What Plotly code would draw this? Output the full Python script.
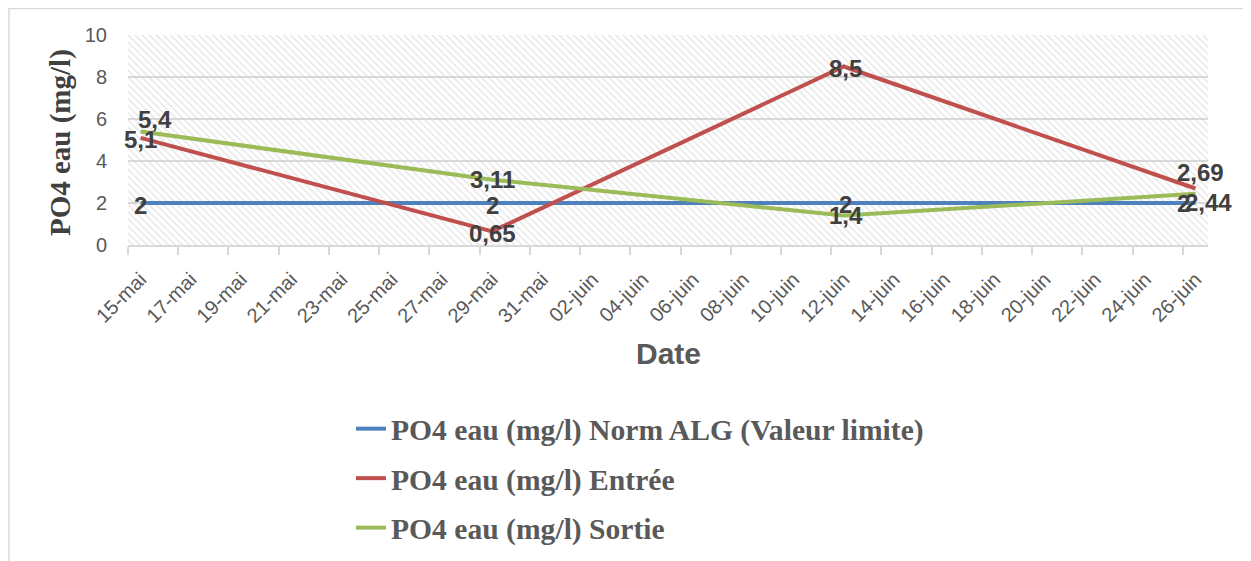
import pandas as pd
import plotly.graph_objects as go

# ---- data ----
dates = ["2023-05-15", "2023-05-29", "2023-06-12", "2023-06-26"]
norm_alg = [2, 2, 2, 2]
entree = [5.1, 0.65, 8.5, 2.69]
sortie = [5.4, 3.11, 1.4, 2.44]

series_names = [
    "PO4 eau (mg/l) Norm ALG (Valeur limite)",
    "PO4 eau (mg/l) Entrée",
    "PO4 eau (mg/l) Sortie",
]
series_colors = ["#4F81BD", "#C0504D", "#9BBB59"]

x_tick_labels = ["15-mai", "17-mai", "19-mai", "21-mai", "23-mai", "25-mai", "27-mai",
                 "29-mai", "31-mai", "02-juin", "04-juin", "06-juin", "08-juin", "10-juin",
                 "12-juin", "14-juin", "16-juin", "18-juin", "20-juin", "22-juin", "24-juin",
                 "26-juin"]
y_ticks = [0, 2, 4, 6, 8, 10]

# label offsets (pixels) for data labels: (xshift, yshift)
label_offsets = [
    [(0, -2), (0, -2), (2, -1), (-12, 0)],
    [(0, -2), (0, -2), (2, -2), (5, 16)],
    [(14, 12), (0, 0), (2, 0), (13, -9)],
]

# ---- figure ----
x_start = pd.Timestamp(dates[0]) - pd.Timedelta(hours=12)
x_end = pd.Timestamp(dates[-1]) + pd.Timedelta(hours=12)
x_mid = x_start + (x_end - x_start) / 2
span_ms = (x_end - x_start).total_seconds() * 1000
tickvals = list(pd.date_range(dates[0], periods=len(x_tick_labels), freq="2D"))

fig = go.Figure()

# hatched plot background
fig.add_trace(go.Bar(
    x=[x_mid], y=[y_ticks[-1]], base=[0], width=[span_ms],
    marker=dict(color="rgba(0,0,0,0)", line=dict(width=0),
                pattern=dict(shape="\\", fgcolor="#cfcfcf", bgcolor="rgba(0,0,0,0)",
                             size=5, solidity=0.3)),
    showlegend=False, hoverinfo="skip",
))

all_series = [norm_alg, entree, sortie]
for i, (name, vals, col) in enumerate(zip(series_names, all_series, series_colors)):
    fig.add_trace(go.Scatter(
        x=dates, y=vals, mode="lines", name=name,
        line=dict(color=col, width=4), legendgroup=str(i),
    ))

annotations = []
for vals, offs in zip(all_series, label_offsets):
    for d, v, (dx, dy) in zip(dates, vals, offs):
        annotations.append(dict(
            x=d, y=v, xref="x", yref="y", text=str(v).replace(".", ","),
            showarrow=False, xshift=dx, yshift=dy,
            font=dict(family="Liberation Sans", size=24, color="#404040", weight="bold"),
        ))

annotations.append(dict(
    x=0.5, y=-0.519, xref="paper", yref="paper", text="<b>Date</b>", showarrow=False,
    xanchor="center", yanchor="middle",
    font=dict(family="Liberation Sans", size=30, color="#595959"),
))
annotations.append(dict(
    x=-0.063, y=0.49, xref="paper", yref="paper", text="<b>PO4 eau (mg/l)</b>",
    showarrow=False, textangle=-90, xanchor="center", yanchor="middle",
    font=dict(family="Liberation Serif", size=29, color="#404040"),
))

fig.update_layout(
    width=1243, height=553,
    margin=dict(l=120, r=43, t=27, b=316, autoexpand=False),
    paper_bgcolor="white", plot_bgcolor="white",
    showlegend=True,
    legend=dict(x=0.2065, y=-0.752, xanchor="left", yanchor="top",
                font=dict(family="Liberation Serif", size=29.6, color="#595959", weight="bold"),
                tracegroupgap=8, bgcolor="rgba(0,0,0,0)"),
    annotations=annotations,
    shapes=[dict(type="rect", xref="paper", yref="paper", x0=-0.1102, x1=1.034,
                 y0=-1.6, y1=1.1262, line=dict(color="#d9d9d9", width=1.5),
                 fillcolor="rgba(0,0,0,0)", layer="above")],
    bargap=0,
)

fig.update_xaxes(
    type="date", range=[x_start, x_end], automargin=False,
    tickmode="array", tickvals=tickvals, ticktext=x_tick_labels,
    tickangle=-45, ticks="", ticklabelstandoff=13,
    tickfont=dict(family="Liberation Sans", size=20, color="#595959"),
    showline=True, linecolor="#d9d9d9", linewidth=1.5,
    showgrid=False, zeroline=False,
    minor=dict(tick0=x_start, dtick=2 * 86400000, ticks="outside", ticklen=8,
               tickcolor="#d9d9d9", tickwidth=1.5, showgrid=False),
)
fig.update_yaxes(
    range=[0, 10], tickvals=y_ticks, ticks="", ticklabelstandoff=20, automargin=False,
    tickfont=dict(family="Liberation Sans", size=20, color="#595959"),
    showgrid=True, gridcolor="#d9d9d9", gridwidth=1.5,
    zeroline=False, showline=False,
)

fig.write_html("out.html")
